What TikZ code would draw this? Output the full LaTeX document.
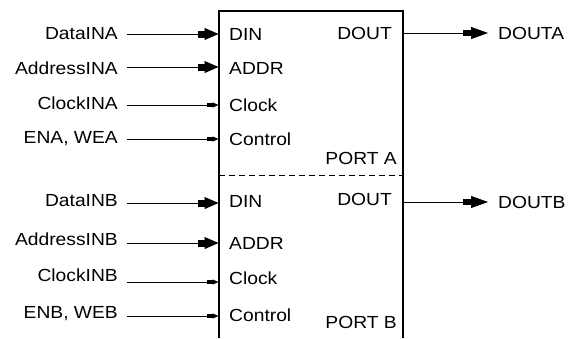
\documentclass[tikz,border=0pt]{standalone}
\usepackage{fontspec}
\setmainfont{Liberation Sans}[FakeStretch=1.1]
\usetikzlibrary{arrows.meta}
\begin{document}
\begin{tikzpicture}[x=1pt,y=-1pt,
  lab/.style={inner sep=0pt, text height=12.5pt, text depth=0pt, font=\fontsize{17.5}{20}\selectfont},
  wire/.style={line width=0.9pt},
  bigtip/.style={wire,-{Rectangle[length=7pt,width=7pt] Triangle[length=14pt,width=12pt]}},
  smalltip/.style={wire,-{Rectangle[length=6pt,width=4pt] Triangle[length=6pt,width=5pt]}},
  outtip/.style={wire,-{Rectangle[length=8pt,width=6pt] Triangle[length=17pt,width=12pt]}},
  boxline/.style={line width=1.3pt},
  divider/.style={line width=1pt, dash pattern=on 6pt off 4pt}]
\useasboundingbox (0,0) rectangle (569,338);
% memory block (open at the bottom)
\coordinate (bl) at (219,338);
\coordinate (tl) at (219,11);
\coordinate (tr) at (403,11);
\coordinate (br) at (403,338);
\draw[boxline] (bl) -- (tl) -- (tr) -- (br);
% port divider
\coordinate (dl) at (219,175);
\coordinate (dr) at (403,175);
\draw[divider] (dl) -- (dr);
% inputs
\foreach \n/\t/\yl/\yw/\yp/\p/\s in {
  da/DataINA/33/34/34/DIN/bigtip,
  aa/AddressINA/68/67/68/ADDR/bigtip,
  ca/ClockINA/103/105/105/Clock/smalltip,
  ea/{ENA, WEA}/137/139/139/Control/smalltip,
  db/DataINB/200/203/201/DIN/bigtip,
  ab/AddressINB/239/243/243/ADDR/bigtip,
  cb/ClockINB/275/282/278/Clock/smalltip,
  eb/{ENB, WEB}/312/316/315/Control/smalltip}
{
  \node[lab,anchor=east] (\n) at (118,\yl) {\t};
  \node[lab,anchor=west] (\n-p) at (229,\yp) {\p};
  \coordinate (\n-s) at (127,\yw);
  \coordinate (\n-e) at (218.5,\yw);
  \draw[\s] (\n-s) -- (\n-e);
}
% outputs
\node[lab,anchor=east] (doa) at (392,33) {DOUT};
\node[lab,anchor=west] (oa) at (498,33) {DOUTA};
\coordinate (oa-s) at (403,33);
\draw[outtip,shorten >=10pt] (oa-s) -- (oa.west);
\node[lab,anchor=east] (dob) at (392,199) {DOUT};
\node[lab,anchor=west] (ob) at (498,202) {DOUTB};
\coordinate (ob-s) at (403,202);
\draw[outtip,shorten >=10pt] (ob-s) -- (ob.west);
% port names
\node[lab,anchor=east] (pa) at (397,158) {PORT A};
\node[lab,anchor=east] (pb) at (397,322) {PORT B};
\end{tikzpicture}
\end{document}
